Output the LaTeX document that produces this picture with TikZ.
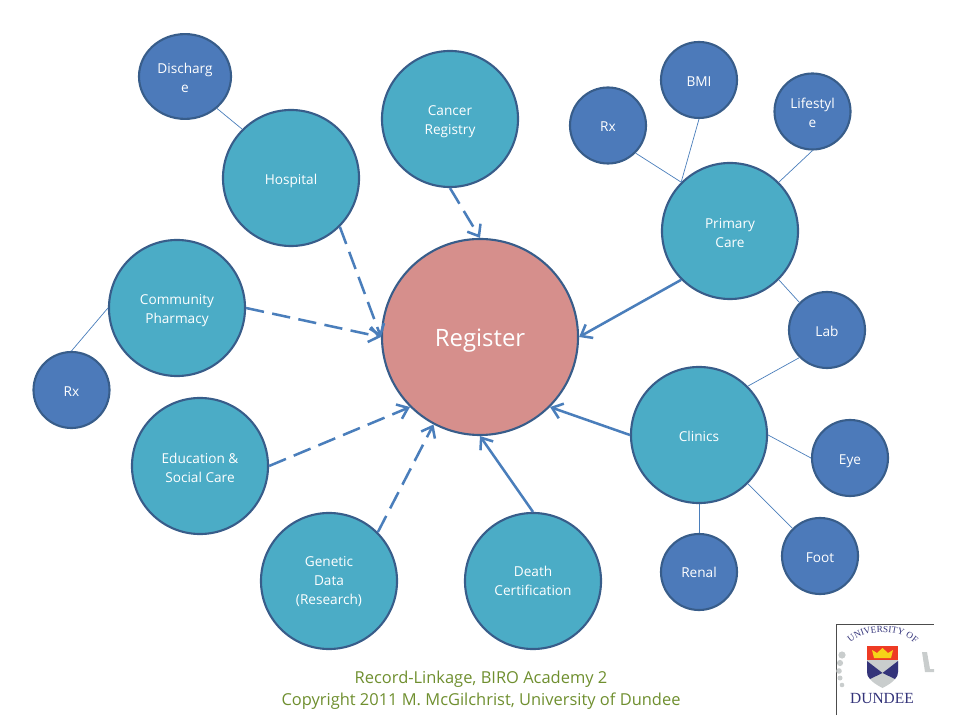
\documentclass[tikz,border=0pt]{standalone}
\usepackage{fontspec}
\usepackage{xcolor}
\setmainfont{Open Sans}
\newfontfamily\crestfont{Liberation Serif}
\usetikzlibrary{arrows.meta, decorations.text, shapes.geometric}
\definecolor{tealfill}{HTML}{4BACC6}
\definecolor{bluefill}{HTML}{4C7ABA}
\definecolor{rosefill}{HTML}{D68F8C}
\definecolor{ringblue}{HTML}{385D8A}
\definecolor{linkblue}{HTML}{4A7EBB}
\definecolor{captiongreen}{HTML}{6F8F2F}
\definecolor{crestnavy}{HTML}{34347A}
\definecolor{crestred}{HTML}{EE3B24}
\definecolor{crestgold}{HTML}{F6D318}
\definecolor{crestgrey}{HTML}{C9CDCD}
\tikzset{
    nudge/.style={execute at begin node={\vbox\bgroup\kern#1\hbox\bgroup},
        execute at end node={\egroup\egroup}},
    source/.style={circle, fill=tealfill, draw=ringblue, line width=1.5pt, minimum size=3.4cm,
        inner sep=0pt, align=center, text=white, font=\fontsize{9.7}{13.5}\selectfont, nudge=3.6pt},
    detail/.style={circle, fill=bluefill, draw=ringblue, line width=1.5pt, minimum size=1.9cm,
        inner sep=0pt, align=center, text=white, font=\fontsize{9.7}{13.5}\selectfont, nudge=2pt},
    feed/.style={draw=linkblue, line width=1.8pt, -{Straight Barb[length=7pt, width=11pt]}},
    loosefeed/.style={feed, dash pattern=on 13pt off 6pt},
    twig/.style={draw=linkblue, line width=0.5pt},
    caption/.style={text=captiongreen, font=\fontsize{11.7}{15.6}\selectfont, align=center}
}
\begin{document}
\begin{tikzpicture}[x=0.025cm, y=-0.025cm]
    \useasboundingbox (0,0) rectangle (960,720);
    % register in the middle
    \node[circle, fill=rosefill, draw=ringblue, line width=1.5pt, minimum size=4.9cm, text=white,
          align=center, font=\fontsize{17}{20}\selectfont, nudge=5.6pt] (register) at (480,337) {Register};

    % large circles
    \node[source] (hospital) at (291,178) {Hospital};
    \node[source] (cancer) at (450,119) {Cancer\\Registry};
    \node[source] (pharmacy) at (177,308) {Community\\Pharmacy};
    \node[source, nudge=-1.4pt] (education) at (200,466) {Education \&\\Social Care};
    \node[source, nudge=-2.6pt] (genetic) at (329,581) {Genetic\\Data\\(Research)};
    \node[source, nudge=-3.6pt] (death) at (533,581) {Death\\Certification};
    \node[source, nudge=-2pt] (clinics) at (699,435) {Clinics};
    \node[source] (primary) at (730,231) {Primary\\Care};

    % small circles
    \node[detail, ellipse, minimum width=2.3cm, minimum height=2.12cm] (discharge) at (185,76.5) {Discharg\\e};
    \node[detail] (pharmacyrx) at (71.5,390) {Rx};
    \node[detail] (primaryrx) at (608,125.5) {Rx};
    \node[detail] (bmi) at (699,80) {BMI};
    \node[detail] (lifestyle) at (812.5,111.5) {Lifestyl\\e};
    \node[detail] (lab) at (827,330) {Lab};
    \node[detail, nudge=2.4pt] (eye) at (850,458) {Eye};
    \node[detail] (foot) at (820,556) {Foot};
    \node[detail, nudge=-2pt] (renal) at (699,572) {Renal};

    % thin links
    \draw[twig] (discharge.315) -- (hospital.135);
    \draw[twig] (pharmacy.180) -- (pharmacyrx.90);
    \draw[twig] (primaryrx.315) -- (primary.135);
    \draw[twig] (bmi.270) -- (primary.135);
    \draw[twig] (lifestyle.270) -- (primary.45);
    \draw[twig] (lab.135) -- (primary.315);
    \draw[twig] (lab.225) -- (clinics.45);
    \draw[twig] (eye.180) -- (clinics.0);
    \draw[twig] (foot.135) -- (clinics.315);
    \draw[twig] (renal.90) -- (clinics.270);

    % arrows into the register
    \draw[loosefeed] (hospital.315) -- (register.180);
    \draw[loosefeed] (cancer.270) -- (register.90);
    \draw[loosefeed] (pharmacy.0) -- (register.180);
    \draw[loosefeed] (education.0) -- (register.225);
    \draw[loosefeed] (genetic.45) -- (register.242);
    \draw[feed] (death.90) -- (register.270);
    \draw[feed] (clinics.180) -- (register.315);
    \draw[feed] (primary.225) -- (register.0);

    \node[caption] (title) at (481,690) {Record-Linkage, BIRO Academy 2\\Copyright 2011 M. McGilchrist, University of Dundee};

    % crest
    \draw[black!70, line width=0.7pt] (836,715) -- (836,624) -- (934,624);
    \foreach \px/\py/\pr in {842/655/3.6, 840/663/3.1, 839/671/2.8, 840/678/2.5, 842/685/2.3}
        \fill[crestgrey] (\px,\py) circle (\pr);
    \fill[crestgrey] (922,652) -- (927,652) -- (930,669) -- (934,669) -- (934,672) -- (925,672) -- cycle;
    \fill[crestgrey] (867,660) -- (898,660) -- (898,672) .. controls (897,680) and (890,684) .. (882.5,688) .. controls (875,684) and (868,680) .. (867,672) -- cycle;
    \fill[crestnavy] (867,661) -- (882.5,673) -- (870,679) .. controls (868,677) and (867,675) .. (867,672) -- cycle;
    \fill[crestnavy] (898,661) -- (882.5,673) -- (895,679) .. controls (897,677) and (898,675) .. (898,672) -- cycle;
    \fill[crestred] (867,646) rectangle (898,660);
    \fill[crestgold] (874,658) -- (872,650) -- (877,653) -- (882.5,648) -- (888,653) -- (893,650) -- (891,658) -- cycle;
    \path[decorate, decoration={text along path, text align=center,
          text={|\crestfont\fontsize{6.6}{9}\selectfont\color{crestnavy}|UNIVERSITY OF}}]
        (846,649) .. controls (858,627) and (905,626) .. (920,649);
    \node[text=crestnavy, font=\crestfont\fontsize{11}{13}\selectfont, inner sep=0pt] (dundee) at (882,699) {DUNDEE};
\end{tikzpicture}
\end{document}
